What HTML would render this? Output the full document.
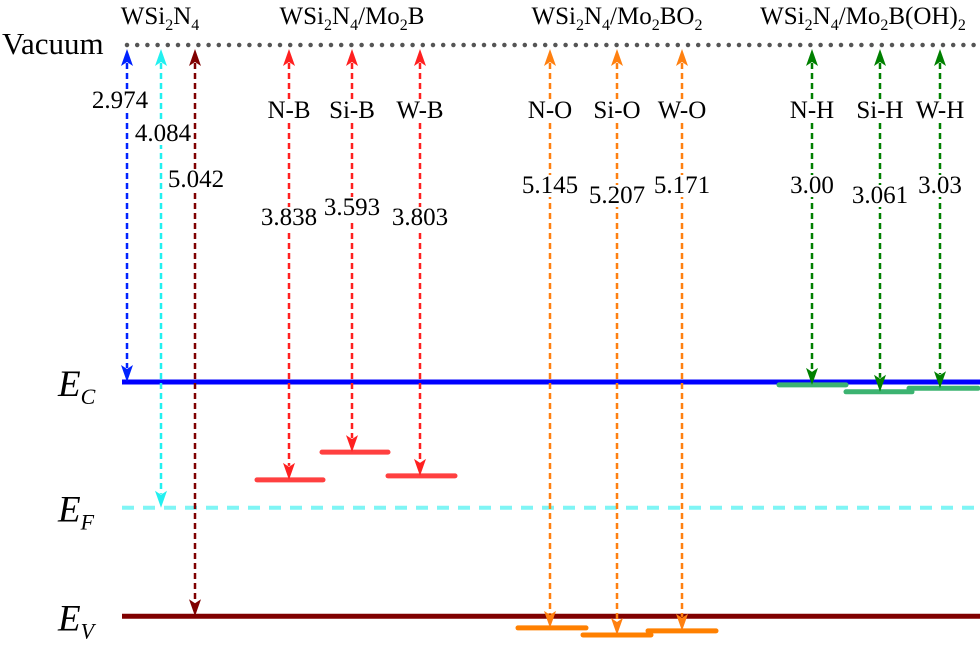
<!DOCTYPE html>
<html><head><meta charset="utf-8"><style>
html,body{margin:0;padding:0;background:#fff;}
</style></head><body>
<svg id="c" width="980" height="643" viewBox="0 0 980 643" font-family="Liberation Serif, serif">
<g id="bg"></g>
<g id="marks"></g>
<g id="labels"></g>
</svg>
<script>
// Data (eV below vacuum)
const wsLevels = [2.974, 4.084, 5.042]; // EC, EF, EV of WSi2N4
const wsNames = ["E_C", "E_F", "E_V"];
const groups = ["WSi2N4/Mo2B", "WSi2N4/Mo2BO2", "WSi2N4/Mo2B(OH)2"];
const contactLabels = [["N-B","Si-B","W-B"],["N-O","Si-O","W-O"],["N-H","Si-H","W-H"]];
const workFunctions = [[3.838,3.593,3.803],[5.145,5.207,5.171],[3.00,3.061,3.03]];
const workFunctionText = [["3.838","3.593","3.803"],["5.145","5.207","5.171"],["3.00","3.061","3.03"]];

const NS="http://www.w3.org/2000/svg";
const FF="'Liberation Serif', serif";
const y0=45, k=113.3;
function yScale(v){return y0+v*k;}
function mk(tag,attrs,parent){const e=document.createElementNS(NS,tag);for(const a in attrs)e.setAttribute(a,attrs[a]);parent.appendChild(e);return e;}
const bg=document.getElementById('bg'), marks=document.getElementById('marks'), labels=document.getElementById('labels');
function boxedText(x,y,str,size,name){
  const t=mk('text',{x:x,y:y,'font-size':size,'text-anchor':'middle','font-family':FF},labels);
  t.textContent=str;
  
  
  const b=t.getBBox();
  const r=mk('rect',{x:b.x-1,y:b.y+3,width:b.width+2,height:b.height-5,fill:'#fff'},labels);
  labels.insertBefore(r,t);
  return t;
}

// vacuum
let vac=mk('line',{x1:127,y1:y0,x2:980,y2:y0,stroke:'#555','stroke-width':4.5,'stroke-dasharray':'0 10.2','stroke-linecap':'round'},bg);


let vt=mk('text',{x:2,y:54,'font-size':31,'font-family':FF},labels);vt.textContent='Vacuum';



// WSi2N4 levels
const lvlColors=['#0000ff','#7ff5f5','#800000'];
const arrowColors=['#0022ff','#22f0f0','#800000'];
const wsX=[127,161,195];
wsLevels.forEach((v,i)=>{
  const y=yScale(v);
  const l=mk('line',{x1:122,y1:y,x2:980,y2:y,stroke:lvlColors[i],'stroke-width':i==1?4:5,'stroke-dasharray':i==1?'12 9':'none'},bg);
  
  
  const lab=mk('text',{x:58,y:y+14,'font-size':37,'font-style':'italic','font-family':FF},labels);
  lab.innerHTML='E<tspan font-size="22" dy="8">'+wsNames[i].split('_')[1]+'</tspan>';
  
  
});
function arrow(x,v,col,name){
  const y=yScale(v);
  const g=mk('g',{},marks);
  
  
  mk('line',{x1:x,y1:y0+18,x2:x,y2:y-14,stroke:col,'stroke-width':2.5,'stroke-dasharray':'6 4'},g);
  mk('polygon',{points:`${x-6},${y0+21} ${x},${y0+4} ${x+6},${y0+21} ${x},${y0+17}`,fill:col},g);
  mk('polygon',{points:`${x-6},${y-17} ${x},${y} ${x+6},${y-17} ${x},${y-13}`,fill:col},g);
}
const wsTextPos=[[120,108],[163,141],[196,187]];
wsLevels.forEach((v,i)=>{
  arrow(wsX[i],v,arrowColors[i],'arrow-ws-'+i);
  boxedText(wsTextPos[i][0],wsTextPos[i][1],v.toFixed(3),25,'ws-value-'+i);
});
let tt=mk('text',{x:160,y:24,'font-size':25,'text-anchor':'middle','font-family':FF},labels);
tt.innerHTML='WSi<tspan font-size="16" dy="6">2</tspan><tspan dy="-6">N</tspan><tspan font-size="16" dy="6">4</tspan>';



// interfaces
const gx=[[289,352,420],[550,617,682],[812,880,940]];
const segs=[[[257,323],[322,388],[388,455]],[[518,586],[583,651],[648,716]],[[779,846],[846,912],[909,978]]];
const gArrow=['#ff2020','#ff8010','#008000'];
const gLevel=['#ff4040','#ff8000','#3cb371'];
const titleX=[352,617,863];
const s='<tspan font-size="16" dy="6">', e='</tspan><tspan dy="-6">';
const titleHtml=[
 'WSi'+s+'2'+e+'N</tspan>'+s+'4'+e+'/Mo</tspan>'+s+'2'+e+'B</tspan>',
 'WSi'+s+'2'+e+'N</tspan>'+s+'4'+e+'/Mo</tspan>'+s+'2'+e+'BO</tspan>'+s+'2</tspan>',
 'WSi'+s+'2'+e+'N</tspan>'+s+'4'+e+'/Mo</tspan>'+s+'2'+e+'B(OH)</tspan>'+s+'2</tspan>'];
const valY=[[225,215,225],[193,203,193],[193,203,193]];
groups.forEach((gname,gi)=>{
  const t=mk('text',{x:titleX[gi],y:24,'font-size':25,'text-anchor':'middle','font-family':FF},labels);
  t.innerHTML=titleHtml[gi];
  
  
  workFunctions[gi].forEach((v,j)=>{
    const y=yScale(v);
    const l=mk('line',{x1:segs[gi][j][0],y1:y,x2:segs[gi][j][1],y2:y,stroke:gLevel[gi],'stroke-width':5,'stroke-linecap':'round'},bg);
    
    
    arrow(gx[gi][j],v,gArrow[gi],'arrow-'+gi+'-'+j);
    boxedText(gx[gi][j],118,contactLabels[gi][j],25,'contact-label-'+gi+'-'+j);
    boxedText(gx[gi][j],valY[gi][j],workFunctionText[gi][j],25,'value-label-'+gi+'-'+j);
  });
});
</script>
</body></html>
